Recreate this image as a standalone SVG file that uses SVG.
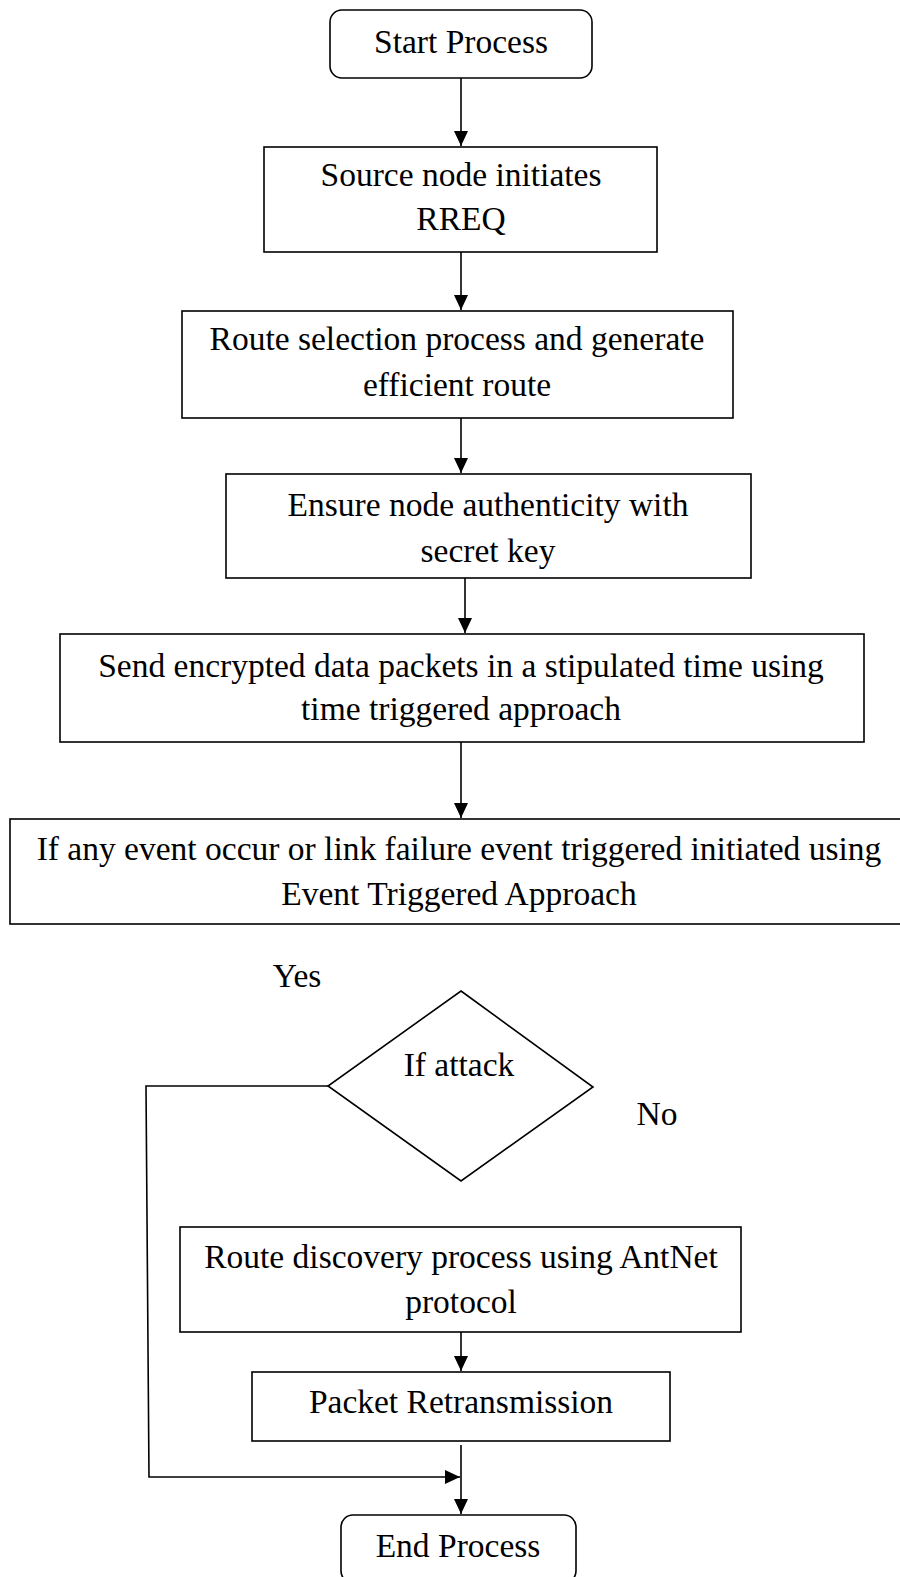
<svg xmlns="http://www.w3.org/2000/svg" width="900" height="1577" viewBox="0 0 900 1577">
<style>
.box{fill:#fff;stroke:#000;stroke-width:1.6}
.t{font-family:"Liberation Serif","Times New Roman",serif;font-size:33.5px;fill:#000;text-anchor:middle}
.c{fill:none;stroke:#000;stroke-width:1.6}
</style>
<defs>
<marker id="ah" viewBox="0 0 15 14" refX="15" refY="7" markerWidth="15" markerHeight="14" markerUnits="userSpaceOnUse" orient="auto">
<path d="M0,0 L15,7 L0,14 Z" fill="#000"/>
</marker>
</defs>
<rect width="900" height="1577" fill="#fff"/>
<g id="connectors">
<line class="c" x1="461" y1="78" x2="461" y2="146" marker-end="url(#ah)"/>
<line class="c" x1="461" y1="252" x2="461" y2="310" marker-end="url(#ah)"/>
<line class="c" x1="461" y1="418" x2="461" y2="473" marker-end="url(#ah)"/>
<line class="c" x1="465" y1="578" x2="465" y2="633" marker-end="url(#ah)"/>
<line class="c" x1="461" y1="742" x2="461" y2="818" marker-end="url(#ah)"/>
<polyline class="c" points="328,1086 146,1086 149,1477 460,1477" marker-end="url(#ah)"/>
<line class="c" x1="461" y1="1332" x2="461" y2="1371" marker-end="url(#ah)"/>
<line class="c" x1="461" y1="1445" x2="461" y2="1514" marker-end="url(#ah)"/>
</g>
<g id="start">
<rect class="box" x="330" y="10" width="262" height="68" rx="12"/>
<text class="t" x="461" y="53">Start Process</text>
</g>
<g id="source">
<rect class="box" x="264" y="147" width="393" height="105"/>
<text class="t" x="461" y="186">Source node initiates</text>
<text class="t" x="461" y="230">RREQ</text>
</g>
<g id="route-selection">
<rect class="box" x="182" y="311" width="551" height="107"/>
<text class="t" x="457" y="350">Route selection process and generate</text>
<text class="t" x="457" y="396">efficient route</text>
</g>
<g id="ensure">
<rect class="box" x="226" y="474" width="525" height="104"/>
<text class="t" x="488" y="516">Ensure node authenticity with</text>
<text class="t" x="488" y="562">secret key</text>
</g>
<g id="send">
<rect class="box" x="60" y="634" width="804" height="108"/>
<text class="t" x="461" y="677">Send encrypted data packets in a stipulated time using</text>
<text class="t" x="461" y="720">time triggered approach</text>
</g>
<g id="event">
<rect class="box" x="10" y="819" width="900" height="105"/>
<text class="t" x="459" y="860">If any event occur or link failure event triggered initiated using</text>
<text class="t" x="459" y="905">Event Triggered Approach</text>
</g>
<g id="decision">
<polygon class="box" points="461,991 593,1087 461,1181 328,1086"/>
<text class="t" x="459" y="1076">If attack</text>
</g>
<g id="labels">
<text class="t" x="297" y="987">Yes</text>
<text class="t" x="657" y="1125">No</text>
</g>
<g id="route-discovery">
<rect class="box" x="180" y="1227" width="561" height="105"/>
<text class="t" x="461" y="1268">Route discovery process using AntNet</text>
<text class="t" x="461" y="1313">protocol</text>
</g>
<g id="retransmission">
<rect class="box" x="252" y="1372" width="418" height="69"/>
<text class="t" x="461" y="1413">Packet Retransmission</text>
</g>
<g id="end">
<rect class="box" x="341" y="1515" width="235" height="68" rx="12"/>
<text class="t" x="458" y="1557">End Process</text>
</g>
</svg>
